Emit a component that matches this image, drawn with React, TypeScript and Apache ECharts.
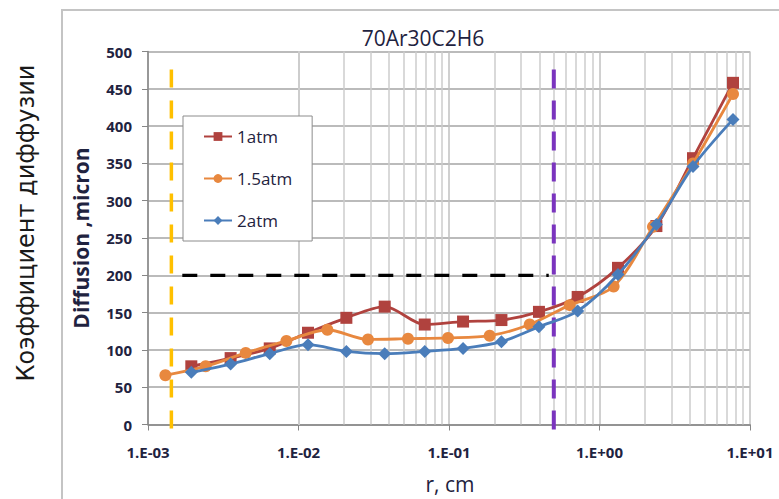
import { useEffect, useRef } from "react";
import * as echarts from "echarts";

// Radius (cm) and diffusion (micron) for each pressure
const radius1atm = [0.00194, 0.00354, 0.00644, 0.01156, 0.0208, 0.0374, 0.069, 0.124, 0.223, 0.396, 0.716, 1.327, 2.388, 4.18, 7.71];
const diffusion1atm = [78, 89, 102, 123, 143, 158, 134, 138, 140, 151, 171, 210, 266, 357, 458];

const radius15atm = [0.001305, 0.002417, 0.00446, 0.008311, 0.01556, 0.02896, 0.05341, 0.09849, 0.1864, 0.3438, 0.6339, 1.241, 2.267, 4.18, 7.71];
const diffusion15atm = [66, 78, 96, 112, 127, 114, 115, 116, 119, 134, 160, 185, 265, 350, 443];

const radius2atm = [0.00194, 0.00354, 0.00644, 0.01156, 0.0208, 0.0374, 0.069, 0.124, 0.223, 0.396, 0.716, 1.327, 2.388, 4.18, 7.71];
const diffusion2atm = [70, 81, 95, 107, 98, 95, 98, 102, 111, 131, 152, 201, 268, 346, 409];

const seriesNames = ["1atm", "1.5atm", "2atm"];
const seriesColors = ["#B0423E", "#E8883F", "#4A7DBA"];

// Axis structure
const xDecades = [0.001, 0.01, 0.1, 1];
const minorMultipliers = [2, 3, 4, 5, 6, 7, 8, 9];

// Reference lines
const leftBoundaryR = 0.00143;
const rightBoundaryR = 0.497;
const boundarySpan = [476, -17];
const levelValue = 200;
const levelSpanR = [0.00169, 0.46];

const FONT = '"Open Sans", "Liberation Sans", sans-serif';

function expLabel(v: number): string {
  const e = Math.round(Math.log10(v));
  const sign = e < 0 ? "-" : "+";
  return `1.E${sign}${String(Math.abs(e)).padStart(2, "0")}`;
}

export default function App() {
  const ref = useRef<HTMLDivElement>(null);

  useEffect(() => {
    if (!ref.current) return;
    const chart = echarts.init(ref.current, undefined, { renderer: "svg" });

    const minorGrid: number[] = [];
    xDecades.forEach((d) => minorMultipliers.forEach((m) => minorGrid.push(+(d * m).toPrecision(3))));

    const pairs = (xs: number[], ys: number[]) => xs.map((x, i) => [x, ys[i]]);

    const dataSeries = [
      { name: seriesNames[0], xs: radius1atm, ys: diffusion1atm, symbol: "rect", size: 12 },
      { name: seriesNames[1], xs: radius15atm, ys: diffusion15atm, symbol: "circle", size: 12 },
      { name: seriesNames[2], xs: radius2atm, ys: diffusion2atm, symbol: "diamond", size: 13 },
    ].map((s, i) => ({
      name: s.name,
      type: "line",
      data: pairs(s.xs, s.ys),
      smooth: 0.3,
      symbol: s.symbol,
      symbolSize: s.size,
      z: 5 + i,
      lineStyle: { color: seriesColors[i], width: 2.8 },
      itemStyle: { color: seriesColors[i] },
    }));

    chart.setOption({
      animation: false,
      backgroundColor: "#ffffff",
      textStyle: { fontFamily: FONT },
      grid: { left: 148, right: 29, top: 51.5, bottom: 74.5, containLabel: false },
      legend: {
        data: seriesNames,
        orient: "vertical",
        left: 183,
        top: 116,
        padding: [12, 20, 12, 20],
        itemGap: 25,
        itemWidth: 28,
        itemHeight: 11,
        backgroundColor: "#ffffff",
        borderColor: "#8c8c8c",
        borderWidth: 1,
        textStyle: { fontFamily: FONT, fontSize: 17, color: "#1f2340" },
      },
      xAxis: {
        type: "log",
        logBase: 10,
        min: 0.001,
        max: 10,
        axisLine: { show: true, lineStyle: { color: "#868686", width: 1.5 } },
        axisTick: { show: true, length: 6, lineStyle: { color: "#868686" } },
        axisLabel: {
          formatter: expLabel,
          margin: 20,
          fontFamily: FONT,
          fontWeight: "bold",
          fontSize: 15,
          color: "#1f2340",
        },
        splitLine: { show: true, lineStyle: { color: "#c0c0c0", width: 1.5 } },
      },
      yAxis: {
        type: "value",
        min: 0,
        max: 500,
        interval: 50,
        axisLine: { show: true, lineStyle: { color: "#868686", width: 1.5 } },
        axisTick: { show: true, length: 6, lineStyle: { color: "#868686" } },
        axisLabel: {
          margin: 16,
          fontFamily: FONT,
          fontWeight: "bold",
          fontSize: 15,
          color: "#1f2340",
        },
        splitLine: { show: true, lineStyle: { color: "#a4a4a4", width: 1.5 } },
      },
      series: [
        {
          name: "minor-grid",
          type: "line",
          data: [],
          z: 1,
          silent: true,
          markLine: {
            silent: true,
            z: 1,
            symbol: "none",
            label: { show: false },
            lineStyle: { color: "#cccccc", width: 1.5, type: "solid" },
            data: minorGrid.map((v) => ({ xAxis: v })),
          },
        },
        {
          name: "level",
          type: "line",
          data: [
            [levelSpanR[0], levelValue],
            [levelSpanR[1], levelValue],
          ],
          symbol: "none",
          z: 3,
          silent: true,
          lineStyle: { color: "#000000", width: 3.3, type: [15, 13] },
        },
        {
          name: "left-boundary",
          type: "line",
          data: boundarySpan.map((v) => [leftBoundaryR, v]),
          symbol: "none",
          clip: false,
          z: 3,
          silent: true,
          lineStyle: { color: "#FFC000", width: 3.5, type: [18, 13] },
        },
        {
          name: "right-boundary",
          type: "line",
          data: boundarySpan.map((v) => [rightBoundaryR, v]),
          symbol: "none",
          clip: false,
          z: 3,
          silent: true,
          lineStyle: { color: "#7A34BE", width: 4, type: [19, 12] },
        },
        ...dataSeries,
      ],
      graphic: [
        {
          type: "polyline",
          shape: { points: [[62, 499], [62, 10], [779, 10]] },
          style: { stroke: "#c4c4c4", lineWidth: 2, fill: "none" },
          silent: true,
        },
        {
          type: "text",
          x: 26,
          y: 223,
          rotation: Math.PI / 2,
          style: {
            text: "Коэффициент диффузии",
            fontFamily: '"DejaVu Sans", sans-serif',
            fontSize: 24,
            fill: "#1a1a1a",
            align: "center",
            verticalAlign: "middle",
          },
        },
        {
          type: "text",
          x: 423,
          y: 38,
          style: {
            text: "70Ar30C2H6",
            fontFamily: FONT,
            fontSize: 21,
            fill: "#1f2340",
            align: "center",
            verticalAlign: "middle",
          },
        },
        {
          type: "text",
          x: 81,
          y: 238,
          rotation: Math.PI / 2,
          style: {
            text: "Diffusion ,micron",
            fontFamily: FONT,
            fontWeight: "bold",
            fontSize: 21,
            fill: "#1f2340",
            align: "center",
            verticalAlign: "middle",
          },
        },
        {
          type: "text",
          x: 450,
          y: 484,
          style: {
            text: "r, cm",
            fontFamily: FONT,
            fontSize: 21,
            fill: "#1f2340",
            align: "center",
            verticalAlign: "middle",
          },
        },
      ],
    });

    return () => chart.dispose();
  }, []);

  return (
    <div
      ref={ref}
      style={{ position: "fixed", left: 0, top: 0, width: 779, height: 499, background: "#fff" }}
    />
  );
}
